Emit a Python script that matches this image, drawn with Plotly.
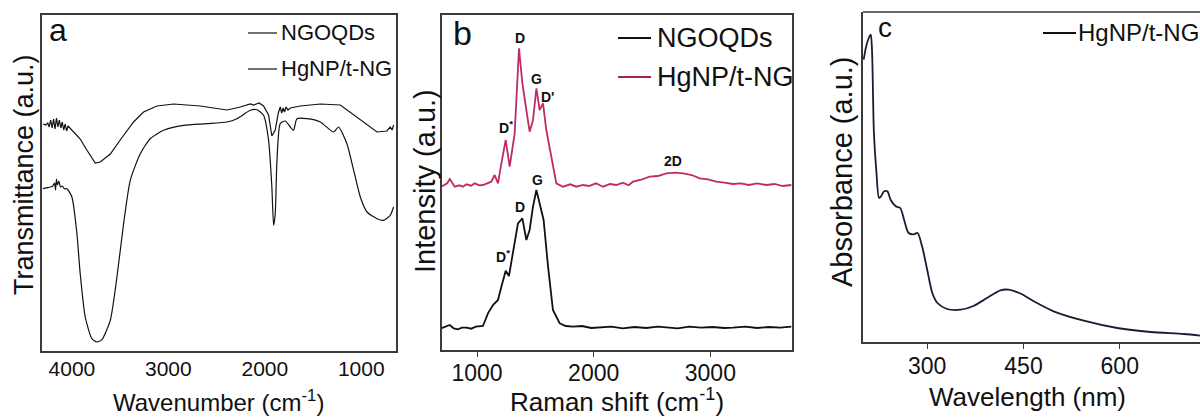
import plotly.graph_objects as go

W, H = 1200, 419

# ---------------- Panel a: FTIR ----------------
a_wn_ngoqds = [4300, 4270, 4250, 4235, 4220, 4205, 4190, 4175, 4160, 4145, 4130, 4115, 4100, 4085,
               4070, 4055, 4040, 4020, 4000, 3914, 3845, 3758, 3706,
               3602, 3499, 3361, 3257, 3119, 2946, 2800, 2669, 2531, 2393, 2254, 2150, 2116, 2060,
               2013, 1961, 1927, 1892, 1860, 1840, 1825, 1810, 1795, 1780, 1760, 1736, 1632, 1425,
               1217, 1079, 941, 837, 734, 700, 680, 665]
a_t_ngoqds = [227, 226, 228, 224, 231, 223, 232, 222, 233, 224, 231, 223, 229, 221,
              227, 220, 225, 223, 220, 212, 201, 188, 189,
              197, 211, 229, 239, 245, 247, 246, 245, 243, 241, 244, 247, 246, 248,
              245, 236, 215, 221, 238, 244, 238, 243, 239, 244, 241, 243, 245, 247,
              246, 236, 226, 219, 220, 224, 221, 226]

a_wn_hgnp = [4300, 4250, 4200, 4180, 4170, 4160, 4150, 4135, 4120, 4100, 4075, 4052, 4000, 3948,
             3914, 3862, 3793, 3741,
             3689, 3602, 3533, 3464, 3395, 3291, 3188, 3050, 2842, 2600, 2393, 2289, 2151, 2082,
             2013, 1961, 1927, 1909, 1892, 1874, 1840, 1788, 1736, 1702, 1667, 1563, 1425, 1287,
             1236, 1149, 1079, 1010, 941, 837, 769, 700, 665]
a_t_hgnp = [162.3, 163.3, 164.7, 168, 161, 172, 166, 170, 164, 165, 162, 162.3, 154, 117.3,
            77.3, 34, 12.3, 9,
            11.3, 30.7, 74, 127.3, 170.7, 197.3, 212.3, 220.7, 225.7, 227.3, 229, 232.3, 240.7, 241.3,
            235.7, 210.7, 164, 125.7, 137.3, 190.7, 227.3, 230, 224, 220.7, 232.3, 232.3, 229, 219,
            224, 207.3, 180.7, 154, 139, 132.3, 130.7, 135.7, 144]
a_xticks = [4000, 3000, 2000, 1000]

# ---------------- Panel b: Raman ----------------
b_shift_hgnp = [694, 720, 745, 766, 790, 809, 850, 880, 909, 950, 980, 1020, 1051, 1090, 1123, 1151,
                1180, 1209, 1246, 1280, 1323, 1360, 1389, 1423, 1451, 1480, 1509, 1537, 1566, 1594,
                1637, 1680, 1737, 1800, 1850, 1909, 1960, 2020, 2080, 2140, 2194, 2250, 2300, 2337,
                2400, 2480, 2550, 2623, 2700, 2766, 2840, 2909, 2980, 3051, 3120, 3194, 3260, 3330,
                3400, 3480, 3550, 3620, 3694]
b_i_hgnp = [163.3, 165, 166.7, 171, 166, 163.3, 164.7, 163.3, 165.7, 164.3, 166.7, 164.7, 165, 166.7,
            168.3, 175, 166.7, 186.7, 210, 183.3, 216.7, 301.7, 266.7, 240, 218.3, 230, 261.7, 240,
            246.7, 220, 193.3, 166.7, 163.3, 165.7, 163.3, 165, 164, 166.7, 163.3, 166, 165, 167.3,
            164.7, 168.3, 170, 173.3, 174, 176.7, 177.3, 176.7, 175, 171.7, 170.7, 168.3, 167.3, 166,
            166.7, 165, 166.7, 165, 166, 164, 165]

b_shift_ngoqds = [694, 730, 766, 800, 837, 870, 909, 950, 990, 1051, 1094, 1137, 1180, 1209, 1246,
                  1274, 1309, 1351, 1389, 1423, 1451, 1480, 1509, 1537, 1571, 1609, 1651, 1709, 1760,
                  1823, 1900, 1980, 2051, 2150, 2250, 2350, 2450, 2550, 2623, 2720, 2820, 2920, 3020,
                  3120, 3194, 3300, 3400, 3500, 3600, 3694]
b_i_ngoqds = [21.7, 23.3, 25, 21.7, 20.7, 22.3, 22.3, 21.3, 23.3, 24, 36.7, 45, 50, 63.3, 79.3,
              74, 96.7, 126.7, 131.7, 110, 120, 143.3, 160, 146.7, 130, 83.3, 40, 26.7, 24,
              23.3, 24, 22, 22.3, 23.3, 21.7, 23, 22, 23.3, 22.7, 21.7, 23.3, 22.3, 23,
              22, 22.3, 23.3, 22, 23, 22.3, 23.3]
b_xticks = [1000, 2000, 3000]

# peak labels
b_peak_text = ["D", "G", "D'", "D<sup>*</sup>", "2D", "G", "D", "D<sup>*</sup>"]
b_peak_x = [1371, 1509, 1600, 1246, 2680, 1517, 1371, 1223]
b_peak_y = [312, 271, 253, 223, 189, 170, 143, 94]

# ---------------- Panel c: UV-vis ----------------
c_wl = [201, 205, 209, 212, 214, 217, 221, 225, 228, 233, 238, 243, 251, 258, 264, 271, 279, 285,
        292, 300, 308, 316, 331, 352, 373, 393, 414, 427, 446, 466, 497, 544, 596, 648, 700, 726]
c_abs = [282.3, 295.7, 304, 307.3, 292.3, 209, 169, 144, 145.7, 150.7, 150.7, 142.3, 135.7, 134,
         122.3, 109, 107.7, 109, 95.7, 72.3, 49, 39, 33, 32.3, 36.3, 44, 51.7, 52.3, 48.3, 40.7,
         30.7, 21.3, 14, 10, 8, 6.3]
c_xticks = [300, 450, 600]

RED = "#c02a68"
INK = "#111111"
FRAME = "#3a3a3a"
FONT = "Liberation Sans, Arial, sans-serif"


def px(x):
    return x / W


def py(y):
    return 1 - y / H


fig = go.Figure()
fig.add_trace(go.Scatter(x=a_wn_ngoqds, y=a_t_ngoqds, mode="lines", line=dict(color=INK, width=1.2),
                         xaxis="x", yaxis="y", showlegend=False))
fig.add_trace(go.Scatter(x=a_wn_hgnp, y=a_t_hgnp, mode="lines",
                         line=dict(color=INK, width=1.2, shape="spline", smoothing=0.6),
                         xaxis="x", yaxis="y", showlegend=False))
fig.add_trace(go.Scatter(x=b_shift_ngoqds, y=b_i_ngoqds, mode="lines", line=dict(color=INK, width=1.8),
                         xaxis="x2", yaxis="y2", showlegend=False))
fig.add_trace(go.Scatter(x=b_shift_hgnp, y=b_i_hgnp, mode="lines", line=dict(color=RED, width=1.8),
                         xaxis="x2", yaxis="y2", showlegend=False))
fig.add_trace(go.Scatter(x=c_wl, y=c_abs, mode="lines",
                         line=dict(color="#1b1b33", width=1.8, shape="spline", smoothing=0.8),
                         xaxis="x3", yaxis="y3", showlegend=False))


def axis_common(size):
    return dict(showgrid=False, zeroline=False, showline=True, linecolor=FRAME, linewidth=1.5,
                tickfont=dict(family=FONT, size=size, color="#111"))


fig.update_layout(
    width=W, height=H, margin=dict(l=0, r=0, t=0, b=0),
    paper_bgcolor="white", plot_bgcolor="white",
    xaxis=dict(domain=[px(42), px(396)], range=[4310, 640], tickvals=a_xticks, ticks="",
               ticklabelstandoff=-2, mirror=True, anchor="y", **axis_common(21)),
    yaxis=dict(domain=[py(351), py(15)], range=[0, 336], showticklabels=False, ticks="",
               mirror=True, anchor="x", **axis_common(21)),
    xaxis2=dict(domain=[px(442), px(792)], range=[700, 3700], tickvals=b_xticks, ticks="outside",
                ticklen=5, tickcolor=FRAME, ticklabelstandoff=-3, mirror=True, anchor="y2",
                **axis_common(23)),
    yaxis2=dict(domain=[py(350), py(15)], range=[0, 335], showticklabels=False, ticks="",
                mirror=True, anchor="x2", **axis_common(23)),
    xaxis3=dict(domain=[px(863), 1.0], range=[200, 725], tickvals=c_xticks, ticks="outside",
                ticklen=5, tickcolor=FRAME, ticklabelstandoff=-2, mirror=False, anchor="y3",
                **axis_common(23)),
    yaxis3=dict(domain=[py(342), py(12)], range=[0, 330], showticklabels=False, ticks="",
                mirror=False, anchor="x3", **axis_common(23)),
)

shapes = [
    # top frame of panel c
    dict(type="line", xref="paper", yref="paper", x0=px(863), x1=1.0, y0=py(12), y1=py(12),
         line=dict(color=FRAME, width=1.5)),
    # legend samples
    dict(type="line", xref="paper", yref="paper", x0=px(248), x1=px(277), y0=py(33), y1=py(33),
         line=dict(color=INK, width=1.2)),
    dict(type="line", xref="paper", yref="paper", x0=px(248), x1=px(277), y0=py(69), y1=py(69),
         line=dict(color=INK, width=1.2)),
    dict(type="line", xref="paper", yref="paper", x0=px(618), x1=px(651), y0=py(38), y1=py(38),
         line=dict(color=INK, width=1.8)),
    dict(type="line", xref="paper", yref="paper", x0=px(618), x1=px(651), y0=py(77), y1=py(77),
         line=dict(color="#a82150", width=1.8)),
    dict(type="line", xref="paper", yref="paper", x0=px(1043), x1=px(1076), y0=py(33), y1=py(33),
         line=dict(color=INK, width=1.8)),
]
fig.update_layout(shapes=shapes)

ann = []


def txt(text, x, y, size, xanchor="center", angle=0, yanchor="middle"):
    ann.append(dict(text=text, x=px(x), y=py(y), xref="paper", yref="paper", showarrow=False,
                    xanchor=xanchor, yanchor=yanchor, textangle=angle,
                    font=dict(family=FONT, size=size, color="#111")))


# panel letters
txt("a", 58, 30, 32)
txt("b", 463, 33, 34)
txt("c", 885, 27, 28)
# legends
txt("NGOQDs", 279, 33, 22, xanchor="left")
txt("HgNP/t-NG", 279, 69, 22, xanchor="left")
txt("NGOQDs", 655, 38, 27, xanchor="left")
txt("HgNP/t-NG", 655, 77, 27, xanchor="left")
txt("HgNP/t-NG", 1076, 33, 24, xanchor="left")
# axis titles
txt("Wavenumber (cm<sup>-1</sup>)", 218, 418, 24, yanchor="bottom")
txt("Raman shift (cm<sup>-1</sup>)", 617, 419, 26, yanchor="bottom")
txt("Wavelength (nm)", 1027, 414, 26, yanchor="bottom")
txt("Transmittance (a.u.)", 24, 175, 27, angle=-90)
txt("Intensity (a.u.)", 425, 181, 29, angle=-90)
txt("Absorbance (a.u.)", 842, 172, 29, angle=-90)

for t, xv, yv in zip(b_peak_text, b_peak_x, b_peak_y):
    ann.append(dict(text="<b>" + t + "</b>", x=xv, y=yv, xref="x2", yref="y2", showarrow=False,
                    font=dict(family=FONT, size=14, color="#111")))

fig.update_layout(annotations=ann)
fig.write_html("out.html", config={"displayModeBar": False},
               post_script="document.body.style.margin='0';document.body.style.overflow='hidden';")
